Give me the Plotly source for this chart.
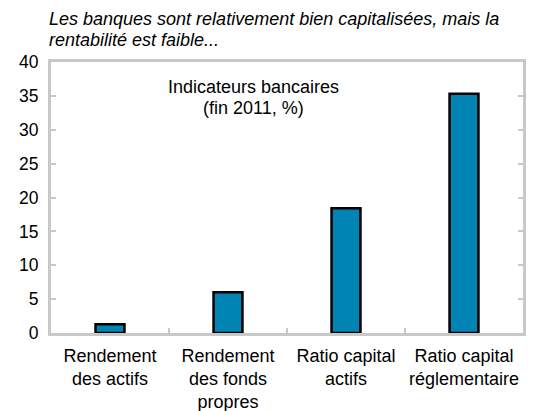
import plotly.graph_objects as go

categories = ["Rendement<br>des actifs", "Rendement<br>des fonds<br>propres",
              "Ratio capital<br>actifs", "Ratio capital<br>réglementaire"]
values = [1.3, 6.0, 18.4, 35.3]
y_ticks = [0, 5, 10, 15, 20, 25, 30, 35, 40]
title_lines = ["Les banques sont relativement bien capitalisées, mais la",
               "rentabilité est faible..."]
box_lines = ["Indicateurs bancaires", "(fin 2011, %)"]

frame = "#c8c8c8"
fig = go.Figure(go.Bar(
    x=categories, y=values, width=0.245,
    marker=dict(color="#0084b3", line=dict(color="black", width=2.5)),
))

annotations = []
for line, shift in zip(title_lines, [43, 22]):
    annotations.append(dict(text="<i>" + line + "</i>", xref="paper", yref="paper",
                            x=-0.009, y=1.0, yshift=shift, xanchor="left", yanchor="middle",
                            showarrow=False, font=dict(size=18)))
for line, shift in zip(box_lines, [-25, -46]):
    annotations.append(dict(text=line, xref="paper", yref="paper",
                            x=0.43, y=1.0, yshift=shift, xanchor="center", yanchor="middle",
                            showarrow=False, font=dict(size=18)))

# page body has an 8px margin, so the figure is 8px smaller and margins offset
fig.update_layout(
    width=537, height=403,
    margin=dict(l=43, r=22, t=54, b=78, autoexpand=False),
    plot_bgcolor="white", paper_bgcolor="white",
    font=dict(family="Liberation Sans, Arial, sans-serif", size=17, color="black"),
    showlegend=False,
    annotations=annotations,
)
fig.update_xaxes(
    type="category", showline=True, linecolor=frame, linewidth=3, mirror=True,
    ticks="inside", tickson="boundaries", ticklen=5, tickwidth=2, tickcolor=frame,
    showgrid=False, tickfont=dict(size=18), tickangle=0, ticklabelstandoff=4,
    automargin=False,
)
fig.update_yaxes(
    range=[0, 40], tickvals=y_ticks, showline=True, linecolor=frame, linewidth=3,
    mirror="ticks", ticks="inside", ticklen=5, tickwidth=2, tickcolor=frame,
    showgrid=False, zeroline=False, tickfont=dict(size=17.5), ticklabelstandoff=6,
    automargin=False,
)
fig.write_html("out.html")
